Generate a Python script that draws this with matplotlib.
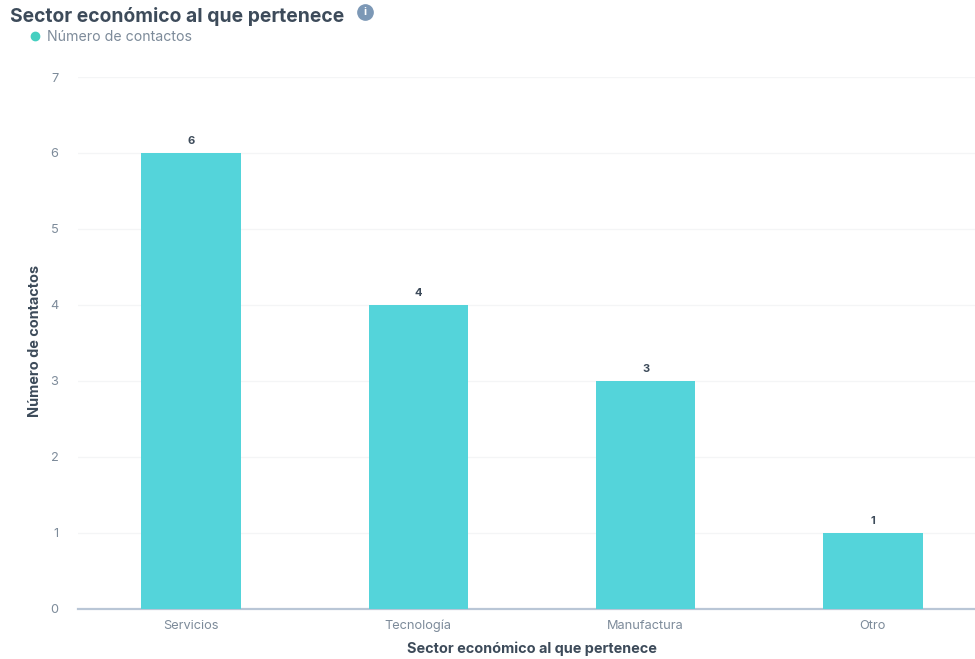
import matplotlib
matplotlib.use('Agg')
import matplotlib.pyplot as plt

categories = ['Servicios', 'Tecnología', 'Manufactura', 'Otro']
contactos = [6, 4, 3, 1]
yticks = [0, 1, 2, 3, 4, 5, 6, 7]

plt.rcParams['font.family'] = ['Inter', 'DejaVu Sans']
W, H = 975, 659
fig = plt.figure(figsize=(W / 100, H / 100), dpi=100)
ax = fig.add_axes([78 / W, 1 - 608.5 / H, (W - 78) / W, (608.5 - 77) / H])

ax.bar(range(4), contactos, width=0.4378, color='#54d4da', zorder=3)
ax.set_xlim(-0.497, 3.449)
ax.set_ylim(0, 7)

ax.set_yticks(yticks)
ax.set_xticks(range(4))
ax.set_xticklabels(categories)
ax.tick_params(axis='both', length=0, colors='#7d8b9a', labelsize=9.2)
ax.tick_params(axis='x', pad=15)
ax.tick_params(axis='y', pad=14)
for t in ax.get_xticklabels():
    t.set_va('baseline')
ax.grid(axis='y', color='#f4f5f6', lw=0.9, zorder=0)

for s in ['top', 'right', 'left']:
    ax.spines[s].set_visible(False)
ax.spines['bottom'].set_color('#b9c6d6')
ax.spines['bottom'].set_linewidth(1.6)

for i, v in enumerate(contactos):
    ax.annotate(str(v), (i, v), xytext=(0, 5), textcoords='offset points',
                ha='center', va='bottom', fontsize=8, fontweight='bold', color='#3d4b5a')

dark = '#3d4b5a'
fig.text(10 / W, 1 - 16 / H, 'Sector económico al que pertenece', fontsize=13.9,
         fontweight='bold', color=dark, va='center')
fig.text(532 / W, 1 - 649 / H, 'Sector económico al que pertenece', fontsize=10.4,
         fontweight='bold', color=dark, ha='center', va='center')
fig.text(35 / W, 1 - 341 / H, 'Número de contactos', fontsize=10.4, fontweight='bold',
         color=dark, rotation=90, ha='center', va='center')
fig.text(47 / W, 1 - 37 / H, 'Número de contactos', fontsize=10.2, color='#7d8b9a', va='center')

# legend dot and info icon
fig.add_artist(plt.Line2D([35 / W], [1 - 36 / H], marker='o', ms=6, color='#45cfc0', ls=''))
fig.add_artist(plt.Line2D([365 / W], [1 - 12 / H], marker='o', ms=11, color='#7c98b6', ls=''))
fig.text(365 / W, 1 - 12 / H, 'i', fontsize=8, fontweight='bold', color='white', ha='center', va='center')

fig.savefig('out.png', dpi=100)
